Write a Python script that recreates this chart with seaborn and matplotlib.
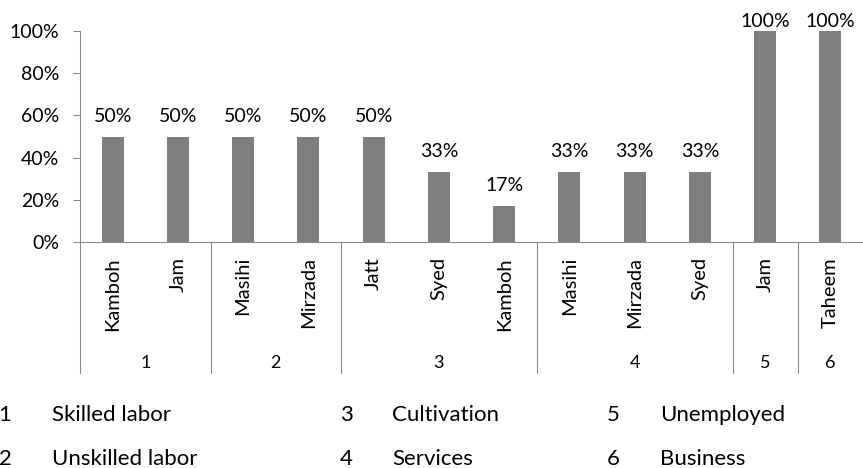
import matplotlib
matplotlib.use("Agg")
import matplotlib.pyplot as plt
import matplotlib.transforms as mtransforms
from matplotlib.lines import Line2D
import seaborn as sns
import pandas as pd

# ---- data -------------------------------------------------------------
castes = ["Kamboh", "Jam", "Masihi", "Mirzada", "Jatt", "Syed", "Kamboh",
          "Masihi", "Mirzada", "Syed", "Jam", "Taheem"]
occupation_codes = [1, 1, 2, 2, 3, 3, 3, 4, 4, 4, 5, 6]
shares = [0.50, 0.50, 0.50, 0.50, 0.50, 0.33, 0.17, 0.33, 0.33, 0.33, 1.00, 1.00]

legend_codes = [1, 2, 3, 4, 5, 6]
legend_names = ["Skilled labor", "Unskilled labor", "Cultivation",
                "Services", "Unemployed", "Business"]

y_ticks = [0.0, 0.2, 0.4, 0.6, 0.8, 1.0]

# ---- style ------------------------------------------------------------
sns.set_style("white")
plt.rcParams["font.family"] = ["Lato", "DejaVu Sans"]

W, H = 863, 468
BAR = "#7f7f7f"
AXIS = "#868686"
LW = 0.75

fig = plt.figure(figsize=(W / 100, H / 100), dpi=100)
ax_left, ax_right, ax_top, ax_bottom = 80, W, 31, 242
ax = fig.add_axes([ax_left / W, (H - ax_bottom) / H,
                   (ax_right - ax_left) / W, (ax_bottom - ax_top) / H])

df = pd.DataFrame({"slot": list(range(len(shares))), "share": shares})
sns.barplot(data=df, x="slot", y="share", color=BAR, saturation=1,
            width=0.34, ax=ax, edgecolor="none")

ax.set_xlim(-0.5, len(shares) - 0.5)
ax.set_ylim(0, 1)
ax.set_xlabel("")
ax.set_ylabel("")
ax.set_xticks([])
ax.set_yticks(y_ticks)
ax.set_yticklabels([f"{round(t * 100)}%" for t in y_ticks])
ax.tick_params(axis="y", length=5.0, width=LW, color=AXIS, pad=10,
               labelsize=14, labelcolor="black", left=True)
for side in ("top", "right"):
    ax.spines[side].set_visible(False)
for side in ("left", "bottom"):
    ax.spines[side].set_color(AXIS)
    ax.spines[side].set_linewidth(LW)

# value labels above each bar (kept inside the plot area at the top)
plot_h = ax_bottom - ax_top
for i, v in enumerate(shares):
    top_px = ax_top + (1 - v) * plot_h
    base_px = max(top_px - 15, 27)
    ax.annotate(f"{round(v * 100)}%", (i, v),
                xytext=(0, (top_px - base_px) * 0.72),
                textcoords="offset points", ha="center", va="baseline",
                fontsize=14, color="black", annotation_clip=False)

# two-level category axis below the bars
trans = mtransforms.blended_transform_factory(ax.transData, fig.transFigure)
for i, name in enumerate(castes):
    ax.text(i, 1 - 257 / H, name, rotation=90, ha="center", va="top",
            fontsize=14.5, transform=trans, color="black")

groups = []
for i, code in enumerate(occupation_codes):
    if groups and groups[-1][0] == code:
        groups[-1][2] = i
    else:
        groups.append([code, i, i])

for code, first, last in groups:
    ax.text((first + last) / 2, 1 - 368 / H, str(code), ha="center",
            va="baseline", fontsize=13, transform=trans, color="black")
    ax.add_line(Line2D([first - 0.5, first - 0.5], [1 - 242 / H, 1 - 373 / H],
                       transform=trans, color=AXIS, lw=LW, clip_on=False))

# key to the occupation codes
num_x = [5, 346, 613]
text_x = [52, 392, 660]
row_base = [421, 465]
for k, (code, label) in enumerate(zip(legend_codes, legend_names)):
    col, row = divmod(k, 2)
    fig.text(num_x[col] / W, 1 - row_base[row] / H, str(code), ha="center",
             va="baseline", fontsize=16, color="black")
    fig.text(text_x[col] / W, 1 - row_base[row] / H, label, ha="left",
             va="baseline", fontsize=16, color="black")

fig.savefig("out.png", dpi=100)
